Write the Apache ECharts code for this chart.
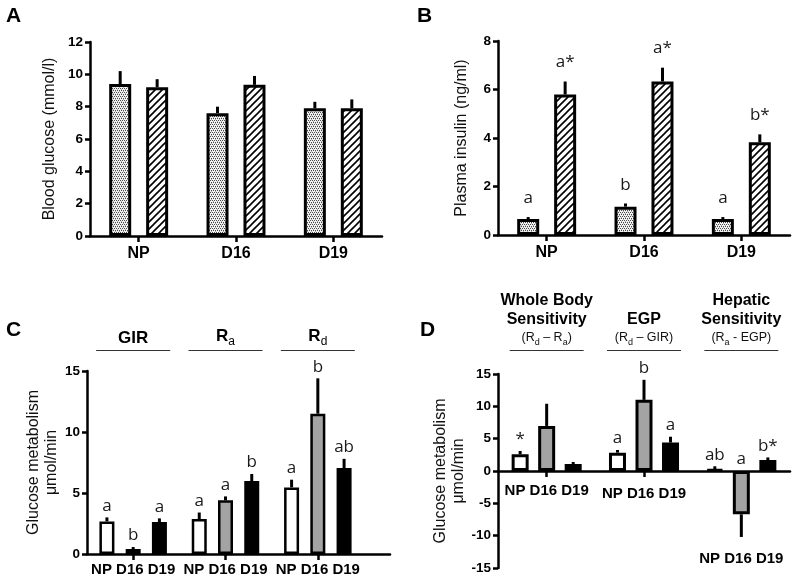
<!DOCTYPE html>
<html><head><meta charset="utf-8">
<script src="https://cdn.jsdelivr.net/npm/echarts@6/dist/echarts.min.js"></script>
<style>html,body{margin:0;padding:0;background:#fff}#c{width:800px;height:582px}</style>
</head><body><div id="c"></div>
<script>
// ---------- DATA ----------
const periods = ['NP', 'D16', 'D19'];
// Panel A: blood glucose (mmol/l)
const glucoseStip = [9.4, 7.6, 7.9];
const glucoseStipSem = [0.8, 0.4, 0.4];
const glucoseHatch = [9.2, 9.35, 7.9];
const glucoseHatchSem = [0.5, 0.55, 0.55];
// Panel B: plasma insulin (ng/ml)
const insulinStip = [0.66, 1.17, 0.66];
const insulinStipSem = [0.08, 0.13, 0.08];
const insulinStipLetters = ['a', 'b', 'a'];
const insulinHatch = [5.79, 6.33, 3.82];
const insulinHatchSem = [0.54, 0.57, 0.33];
const insulinHatchLetters = ['a*', 'a*', 'b*'];
// Panel C: clamp glucose metabolism (umol/min)
const clampGroups = ['GIR', 'Ra', 'Rd'];
const clampNP = [2.67, 2.87, 5.46];
const clampNPSem = [0.33, 0.53, 0.63];
const clampNPLetters = ['a', 'a', 'a'];
const clampD16 = [0.41, 4.4, 11.5];
const clampD16Sem = [0.16, 0.32, 2.9];
const clampD16Letters = ['b', 'a', 'b'];
const clampD19 = [2.62, 5.98, 7.05];
const clampD19Sem = [0.30, 0.58, 0.75];
const clampD19Letters = ['a', 'b', 'ab'];
// Panel D: derived indices (umol/min)
const derivedGroups = ['Whole Body Sensitivity', 'EGP', 'Hepatic Sensitivity'];
const derivedNP = [2.6, 2.84, 0.26];
const derivedNPSem = [0.5, 0.41, 0.47];
const derivedNPLetters = ['*', 'a', 'ab'];
const derivedD16 = [6.97, 11.0, -6.7];
const derivedD16Sem = [3.43, 3.1, 3.5];
const derivedD16Letters = ['', 'b', 'a'];
const derivedD19 = [1.08, 4.4, 1.7];
const derivedD19Sem = [0.32, 0.9, 0.4];
const derivedD19Letters = ['', 'a', 'b*'];

// ---------- PATTERNS ----------
function makeStipple() {
  const c = document.createElement('canvas'); c.width = 4; c.height = 4;
  const g = c.getContext('2d');
  g.fillStyle = '#f2f2f2'; g.fillRect(0, 0, 4, 4);
  g.fillStyle = '#4a4a4a';
  [[0, 0], [2, 0], [1, 2], [3, 2]].forEach(p => g.fillRect(p[0], p[1], 1, 1));
  g.fillStyle = '#b0b0b0';
  [[1, 1], [3, 3]].forEach(p => g.fillRect(p[0], p[1], 1, 1));
  return c;
}
function makeHatch() {
  const s = 7; const c = document.createElement('canvas'); c.width = s; c.height = s;
  const g = c.getContext('2d');
  g.fillStyle = '#fff'; g.fillRect(0, 0, s, s);
  g.strokeStyle = '#000'; g.lineWidth = 1.6;
  g.beginPath();
  g.moveTo(-1, s + 1); g.lineTo(s + 1, -1);
  g.moveTo(-1, 1); g.lineTo(1, -1);
  g.moveTo(s - 1, s + 1); g.lineTo(s + 1, s - 1);
  g.stroke();
  return c;
}
const stipple = { image: makeStipple(), repeat: 'repeat' };
const hatch = { image: makeHatch(), repeat: 'repeat' };

const FONT = 'Liberation Sans, Arial, sans-serif';
const LETTER_FONT = 'Open Sans, Noto Sans, sans-serif';

// ---------- HELPERS ----------
function offsets(n, bw, gap) {
  const total = n * bw + (n - 1) * gap * bw;
  const arr = [];
  for (let i = 0; i < n; i++) arr.push(-total / 2 + bw / 2 + i * bw * (1 + gap));
  return arr;
}
function barSeries(name, ax, vals, fill, bw, gap, border) {
  return {
    type: 'bar', name: name, xAxisIndex: ax, yAxisIndex: ax,
    data: vals, barWidth: bw, barGap: (gap * 100) + '%',
    itemStyle: { color: fill, borderColor: '#000', borderWidth: border },
    silent: true, z: 3
  };
}
function errSeries(ax, vals, sems, letters, off, gap, lw) {
  return {
    type: 'custom', xAxisIndex: ax, yAxisIndex: ax, z: 5, silent: true,
    data: vals.map((v, i) => [i, v, sems[i]]),
    encode: { x: 0, y: 1 },
    renderItem: function (params, api) {
      const i = api.value(0), v = api.value(1), e = api.value(2);
      const p0 = api.coord([i, v]);
      const end = v >= 0 ? v + e : v - e;
      const p1 = api.coord([i, end]);
      const x = p0[0] + off;
      const children = [{
        type: 'line', shape: { x1: x, y1: p0[1], x2: x, y2: p1[1] },
        style: { stroke: '#000', lineWidth: lw }
      }];
      const t = letters ? letters[params.dataIndex] : '';
      if (t) {
        const anchorY = v >= 0 ? p1[1] : api.coord([i, 0])[1];
        children.push({
          type: 'text', x: x, y: anchorY - gap,
          style: { text: t, fill: '#1a1a1a', fontSize: 17, fontFamily: LETTER_FONT, align: 'center', verticalAlign: 'bottom' }
        });
      }
      return { type: 'group', children: children };
    }
  };
}

const axisLineStyle = { color: '#000', width: 2.5 };
function catAxis(grid, data, extra) {
  return Object.assign({
    type: 'category', gridIndex: grid, data: data,
    axisLine: { show: true, lineStyle: axisLineStyle },
    axisTick: { show: true, alignWithLabel: true, length: 6, lineStyle: { color: '#000', width: 2.5 } },
    axisLabel: { fontWeight: 'bold', fontFamily: FONT, color: '#000', fontSize: 16, margin: 10, interval: 0 },
    splitLine: { show: false }
  }, extra || {});
}
function valAxis(grid, min, max, interval, name, gap, extra) {
  return Object.assign({
    type: 'value', gridIndex: grid, min: min, max: max, interval: interval,
    name: name, nameLocation: 'middle', nameGap: gap, nameRotate: 90,
    nameTextStyle: { fontFamily: FONT, fontSize: 16, color: '#111', lineHeight: 18 },
    axisLine: { show: true, lineStyle: axisLineStyle },
    axisTick: { show: true, length: 5, lineStyle: { color: '#000', width: 2.5 } },
    axisLabel: { fontWeight: 'bold', fontFamily: FONT, color: '#000', fontSize: 13.5, margin: 7 },
    splitLine: { show: false }
  }, extra || {});
}

// geometry per panel
const AB_BW = 22, AB_GAP = 0.68;
const C_BW = 15, C_GAP = 0.75;
const D_BW = 17, D_GAP = 0.56;
const abOff = offsets(2, AB_BW, AB_GAP);
const cOff = offsets(3, C_BW, C_GAP);
const dOff = offsets(3, D_BW, D_GAP);

// D y-range and the offset that puts its category axis at zero
const D_MIN = -15, D_MAX = 15, D_H = 194;
const dZeroOffset = -D_H * (0 - D_MIN) / (D_MAX - D_MIN);

const chart = echarts.init(document.getElementById('c'), null, { renderer: 'canvas' });

const G = { outerBoundsMode: 'none', containLabel: false };
const option = {
  animation: false,
  backgroundColor: '#fff',
  grid: [
    Object.assign({ left: 90, top: 42, width: 292, height: 194 }, G),
    Object.assign({ left: 498, top: 41, width: 292, height: 194 }, G),
    Object.assign({ left: 87, top: 371, width: 277, height: 183 }, G),
    Object.assign({ left: 87, top: 371, width: 303, height: 183 }, G),
    Object.assign({ left: 498, top: 374, width: 292, height: D_H }, G)
  ],
  xAxis: [
    catAxis(0, periods),
    catAxis(1, periods),
    catAxis(2, clampGroups, {
      axisLine: { show: false },
      axisLabel: { fontWeight: 'bold', fontFamily: FONT, color: '#000', fontSize: 15, margin: 8, interval: 0,
        formatter: function () { return periods.join(' '); } }
    }),
    { type: 'value', gridIndex: 3, min: 0, max: 1, axisLine: { show: true, onZero: false, lineStyle: axisLineStyle },
      axisTick: { show: false }, axisLabel: { show: false }, splitLine: { show: false } },
    catAxis(4, derivedGroups, {
      position: 'bottom', offset: dZeroOffset,
      axisLine: { show: true, onZero: false, lineStyle: axisLineStyle },
      axisLabel: { fontWeight: 'bold', fontFamily: FONT, color: '#000', fontSize: 15, margin: 12, interval: 0,
        formatter: function (v, i) {
          const s = periods.join(' ');
          return i === 2 ? '{low|' + s + '}' : (i === 1 ? '{mid|' + s + '}' : s);
        },
        rich: {
          low: { fontWeight: 'bold', fontFamily: FONT, fontSize: 15, color: '#000', padding: [68, 0, 0, 0] },
          mid: { fontWeight: 'bold', fontFamily: FONT, fontSize: 15, color: '#000', padding: [3, 0, 0, 0] }
        }
      }
    })
  ],
  yAxis: [
    valAxis(0, 0, 12, 2, 'Blood glucose (mmol/l)', 31),
    valAxis(1, 0, 8, 2, 'Plasma insulin (ng/ml)', 27),
    valAxis(2, 0, 15, 5, 'Glucose metabolism\nμmol/min', 24),
    { type: 'value', gridIndex: 3, min: 0, max: 15, show: false },
    valAxis(4, D_MIN, D_MAX, 5, 'Glucose metabolism\nμmol/min', 28)
  ],
  series: [
    barSeries('Stippled', 0, glucoseStip, stipple, AB_BW, AB_GAP, 3),
    barSeries('Hatched', 0, glucoseHatch, hatch, AB_BW, AB_GAP, 3),
    errSeries(0, glucoseStip, glucoseStipSem, null, abOff[0], 9, 3),
    errSeries(0, glucoseHatch, glucoseHatchSem, null, abOff[1], 9, 3),

    barSeries('Stippled', 1, insulinStip, stipple, AB_BW, AB_GAP, 3),
    barSeries('Hatched', 1, insulinHatch, hatch, AB_BW, AB_GAP, 3),
    errSeries(1, insulinStip, insulinStipSem, insulinStipLetters, abOff[0], 10, 3),
    errSeries(1, insulinHatch, insulinHatchSem, insulinHatchLetters, abOff[1], 11, 3),

    barSeries('NP', 2, clampNP, '#ffffff', C_BW, C_GAP, 2.5),
    barSeries('D16', 2, clampD16, '#a3a3a3', C_BW, C_GAP, 2.5),
    barSeries('D19', 2, clampD19, '#000000', C_BW, C_GAP, 2.5),
    errSeries(2, clampNP, clampNPSem, clampNPLetters, cOff[0], 3, 3),
    errSeries(2, clampD16, clampD16Sem, clampD16Letters, cOff[1], 3, 3),
    errSeries(2, clampD19, clampD19Sem, clampD19Letters, cOff[2], 3, 3),

    barSeries('NP', 4, derivedNP, '#ffffff', D_BW, D_GAP, 3),
    barSeries('D16', 4, derivedD16, '#a3a3a3', D_BW, D_GAP, 3),
    barSeries('D19', 4, derivedD19, '#000000', D_BW, D_GAP, 3),
    errSeries(4, derivedNP, derivedNPSem, derivedNPLetters, dOff[0], 3, 3),
    errSeries(4, derivedD16, derivedD16Sem, derivedD16Letters, dOff[1], 3, 3),
    errSeries(4, derivedD19, derivedD19Sem, derivedD19Letters, dOff[2], 3, 3)
  ]
};
chart.setOption(option);

// ---------- PANEL LETTERS & GROUP HEADERS ----------
function cx(ax, i) { return chart.convertToPixel({ xAxisIndex: ax }, i); }
const panelFont = { fontSize: 21, fontWeight: 'bold', fontFamily: FONT, fill: '#000', verticalAlign: 'middle', align: 'left' };
const graphics = [
  { type: 'text', x: 6, y: 16, style: Object.assign({ text: 'A' }, panelFont) },
  { type: 'text', x: 417, y: 16, style: Object.assign({ text: 'B' }, panelFont) },
  { type: 'text', x: 6, y: 330, style: Object.assign({ text: 'C' }, panelFont) },
  { type: 'text', x: 420, y: 330, style: Object.assign({ text: 'D' }, panelFont) }
];
const hdrRich = {
  h: { fontSize: 17, fontWeight: 'bold', fontFamily: FONT, fill: '#000', lineHeight: 20 },
  hs: { fontSize: 12, fontFamily: FONT, fill: '#000', lineHeight: 24, verticalAlign: 'bottom' },
  t: { fontSize: 16, fontWeight: 'bold', fontFamily: FONT, fill: '#000', lineHeight: 19 },
  s: { fontSize: 12.5, fontFamily: FONT, fill: '#111', lineHeight: 16 },
  ss: { fontSize: 9, fontFamily: FONT, fill: '#111', lineHeight: 18, verticalAlign: 'bottom' }
};
const cHeaders = ['{h|GIR}', '{h|R}{hs|a}', '{h|R}{hs|d}'];
cHeaders.forEach(function (txt, i) {
  const x = cx(2, i);
  graphics.push({ type: 'text', x: x, y: 348, style: { text: txt, rich: hdrRich, align: 'center', verticalAlign: 'bottom' } });
  graphics.push({ type: 'line', shape: { x1: x - 37, y1: 350.5, x2: x + 37, y2: 350.5 }, style: { stroke: '#333', lineWidth: 1.2 } });
});
const dHeaders = [
  '{t|Whole Body}\n{t|Sensitivity}\n{s|(R}{ss|d}{s| – R}{ss|a}{s|)}',
  '{t|EGP}\n{s|(R}{ss|d}{s| – GIR)}',
  '{t|Hepatic}\n{t|Sensitivity}\n{s|(R}{ss|a}{s| - EGP)}'
];
dHeaders.forEach(function (txt, i) {
  const x = cx(4, i);
  graphics.push({ type: 'text', x: x, y: 347, style: { text: txt, rich: hdrRich, align: 'center', verticalAlign: 'bottom' } });
  graphics.push({ type: 'line', shape: { x1: x - 37, y1: 350.5, x2: x + 37, y2: 350.5 }, style: { stroke: '#333', lineWidth: 1.2 } });
});
chart.setOption({ graphic: graphics });
</script>
</body></html>
